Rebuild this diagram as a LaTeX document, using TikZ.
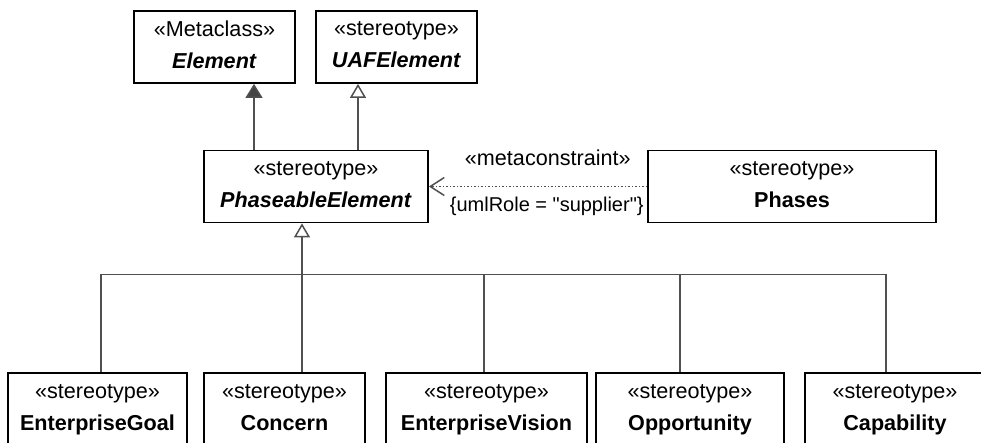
\documentclass[tikz,border=0pt]{standalone}
\usepackage{fontspec}
\setmainfont{Liberation Sans}
\usetikzlibrary{positioning,calc,arrows.meta}
\definecolor{linegray}{HTML}{505050}
\definecolor{headgray}{HTML}{454545}

\begin{document}
\begin{tikzpicture}[x=0.5pt, y=-0.5pt,
		stereobox/.style={shape=rectangle, draw, line width=0.9pt, inner sep=0pt, align=center, minimum height=36pt, font=\fontsize{10.8}{16}\selectfont, execute at end node={\vphantom{p}}},
		conn/.style={draw=linegray, line width=0.75pt},
		genfilled/.style={conn, -{Triangle[length=7pt, width=8.5pt, fill=headgray]}},
		genopen/.style={conn, -{Triangle[open, length=7pt, width=8pt, fill=white]}},
		depend/.style={conn, densely dotted, -{Straight Barb[length=7pt, width=9pt]}},
		deplabel/.style={inner sep=0pt, font=\fontsize{10.8}{13}\selectfont}]
		\clip (0,0) rectangle (981,443);

		\node[stereobox, minimum width=80.5pt] (element) at (214.5, 47) {«Metaclass»\\\textbf{\textit{Element}}};
		\node[stereobox, minimum width=80.5pt] (uafelement) at (396.5, 47) {«stereotype»\\\textbf{\textit{UAFElement}}};
		\node[stereobox, minimum width=112pt] (phaseable) at (316, 186.5) {«stereotype»\\\textbf{\textit{PhaseableElement}}};
		\node[stereobox, minimum width=144pt] (phases) at (792, 186.5) {«stereotype»\\\textbf{Phases}};

		\node[stereobox, minimum width=89.5pt, minimum height=37pt] (goal) at (97.5, 410) {«stereotype»\\\textbf{EnterpriseGoal}};
		\node[stereobox, minimum width=80.5pt, minimum height=37pt] (concern) at (284.5, 410) {«stereotype»\\\textbf{Concern}};
		\node[stereobox, minimum width=100.5pt, minimum height=37pt] (vision) at (486.5, 410) {«stereotype»\\\textbf{EnterpriseVision}};
		\node[stereobox, minimum width=94pt, minimum height=37pt] (opportunity) at (690, 410) {«stereotype»\\\textbf{Opportunity}};
		\node[stereobox, minimum width=90pt, minimum height=37pt] (capability) at (895, 410) {«stereotype»\\\textbf{Capability}};

		\coordinate (upA) at ($(phaseable.north)+(-62, 0)$);
		\coordinate (upB) at ($(phaseable.north)+(42, 0)$);
		\draw[genfilled] (upA) -- (upA |- element.south);
		\draw[genopen] (upB) -- (upB |- uafelement.south);

		\draw[depend] (phases.west) -- (phaseable.east)
			node[deplabel, pos=0.455, yshift=14.25pt] {«metaconstraint»}
			node[deplabel, pos=0.46, yshift=-10pt, font=\fontsize{10}{12}\selectfont] {\{umlRole = \textquotedbl supplier\textquotedbl\}};

		\coordinate (hub) at ($(phaseable.south)+(-14, 51)$);
		\draw[genopen] (hub) -- (hub |- phaseable.south);
		\draw[conn] ($(goal.north)+(3.5, 0)$) |- (hub);
		\draw[conn] ($(concern.north)+(17.5, 0)$) -- (hub);
		\draw[conn] ($(vision.north)+(-2.5, 0)$) |- (hub);
		\draw[conn] ($(opportunity.north)+(-10, 0)$) |- (hub);
		\draw[conn] ($(capability.north)+(-9, 0)$) |- (hub);
	\end{tikzpicture}
\end{document}
